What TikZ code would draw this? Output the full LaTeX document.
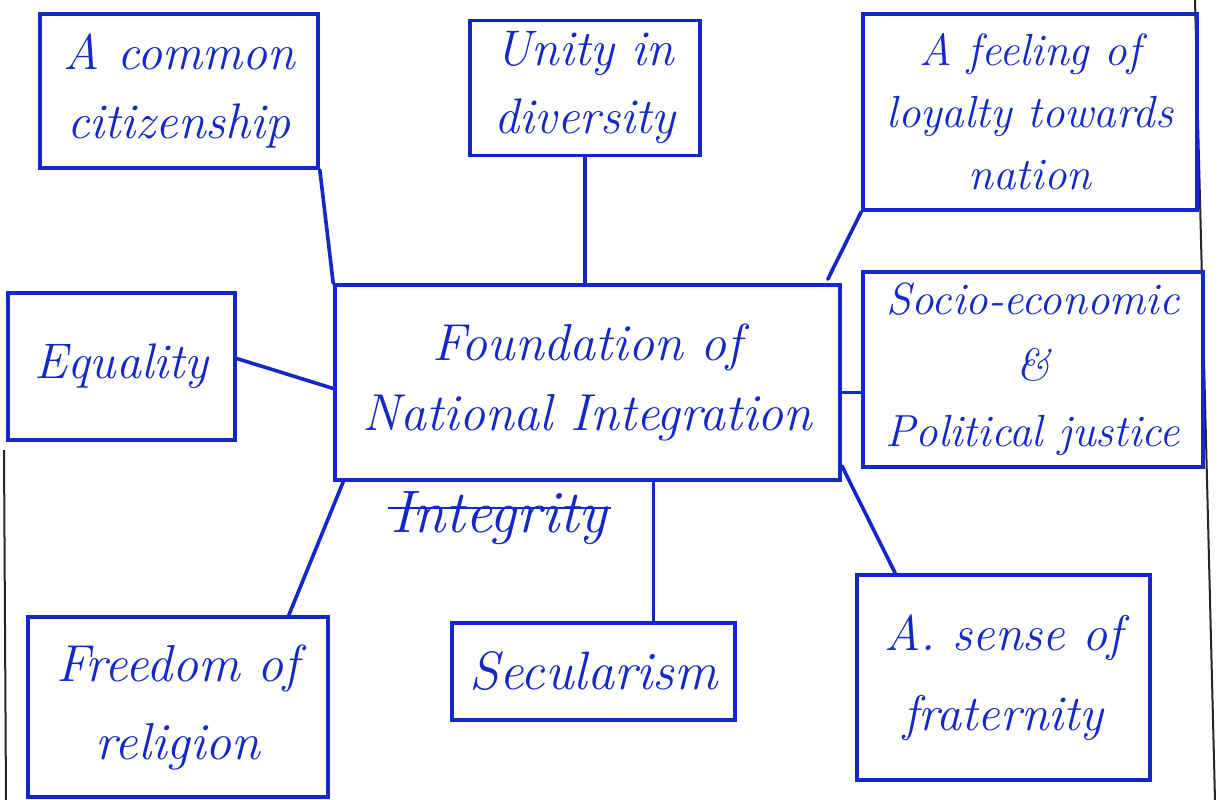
\documentclass[tikz,border=0pt]{standalone}
\usetikzlibrary{calc}
\definecolor{ink}{RGB}{20,40,200}
\begin{document}
\begin{tikzpicture}[x=1pt,y=-1pt,
  fs/.style 2 args={font=\fontsize{#1}{#2}\selectfont\itshape},
  box/.style={draw=ink, line width=3.6pt, rectangle, inner sep=0pt, align=center, text=ink},
  link/.style={draw=ink, line width=3.6pt, line cap=round},
  edgeline/.style={draw=black!85, line width=2pt}]
\useasboundingbox (0,0) rectangle (1224,800);
\fill[white] (0,0) rectangle (1224,800);
% page edges
\draw[edgeline] (1195,0) -- (1215,800);
\draw[edgeline] (4,450) -- (6,800);
% boxes
\node[box, fs={50}{70}, minimum width=278pt, minimum height=154pt] (cit) at (179,91) {A common\\citizenship};
\node[box, fs={50}{68}, minimum width=230pt, minimum height=135pt] (unity) at (585,88) {Unity in\\diversity};
\node[box, fs={45}{62}, minimum width=334pt, minimum height=196pt] (loy) at (1030,112) {A feeling of\\loyalty towards\\nation};
\node[box, fs={50}{60}, minimum width=227pt, minimum height=147pt] (eq) at (121.5,366.5) {Equality};
\node[box, fs={52}{70}, minimum width=505pt, minimum height=195pt] (ctr) at (587.5,382.5) {Foundation of\\National Integration};
\node[box, fs={45}{66}, minimum width=340pt, minimum height=195pt] (soc) at (1033,369.5) {Socio-economic\\\&\\Political justice};
\node[box, fs={52}{78}, minimum width=300pt, minimum height=180pt] (frd) at (178,707) {Freedom of\\religion};
\node[box, fs={54}{60}, minimum width=283pt, minimum height=97pt] (sec) at (593.5,671.5) {Secularism};
\node[box, fs={50}{80}, minimum width=293pt, minimum height=205pt] (frat) at (1003.5,677.5) {A. sense of\\fraternity};
% struck-out word
\node[text=ink, fs={60}{66}, inner sep=0pt, anchor=base west] (integ) at (390,532) {Integrity};
\draw[ink, line width=2.8pt] ($(integ.base west)+(-2,-24)$) -- ($(integ.base east)+(4,-24)$);
% connectors
\draw[link] (cit.south east) -- (ctr.north west);
\draw[link] (unity.south) -- (unity.south |- ctr.north);
\draw[link] (loy.south west) -- ($(ctr.north east)+(-14,-4)$);
\draw[link] ($(eq.east)+(0,-8)$) -- ($(ctr.west)+(0,6)$);
\coordinate (sj) at ($(ctr.east)+(0,10)$);
\draw[link] (sj) -- (sj -| soc.west);
\draw[link] ($(ctr.south west)+(10,0)$) -- ($(frd.north east)+(-41,0)$);
\coordinate (sx) at ($(ctr.south)+(66,0)$);
\draw[link] (sx) -- (sx |- sec.north);
\draw[link] ($(ctr.south east)+(0,-16)$) -- ($(frat.north west)+(40,0)$);
\end{tikzpicture}
\end{document}
